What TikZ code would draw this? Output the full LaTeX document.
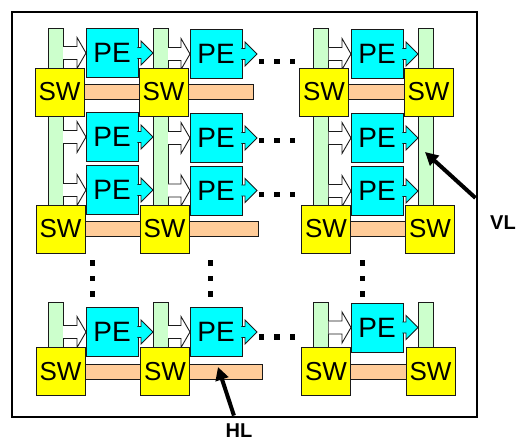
\documentclass[tikz,border=0pt]{standalone}
\usepackage{fontspec}
\setmainfont{Liberation Sans}
\usetikzlibrary{arrows.meta,calc}
\definecolor{vlgreen}{HTML}{CCFFCC}
\definecolor{hlpeach}{HTML}{FFCC99}
\definecolor{pecyan}{HTML}{00FFFF}
\definecolor{swyellow}{HTML}{FFFF00}
\definecolor{edgec}{HTML}{1A1A1A}
\newcommand\wharrow[2]{%
  \filldraw[draw=edgec, fill=white, line width=0.9pt] let \p1=(#1), \p2=(#2) in
   ({\x1},{\y2+6.5pt}) -- ({\x2-9pt},{\y2+6.5pt}) -- ({\x2-9pt},{\y2+15.5pt}) -- (\x2,\y2)
   -- ({\x2-9pt},{\y2-15.5pt}) -- ({\x2-9pt},{\y2-6.5pt}) -- ({\x1},{\y2-6.5pt});
}
\newcommand\cyarrow[2]{%
  \filldraw[draw=edgec, fill=pecyan, line width=0.9pt] let \p1=(#1), \p2=(#2) in
   ({\x1-0.6pt},{\y1+5.5pt}) -- ({\x2-12pt},{\y1+5.5pt}) -- ({\x2-12pt},{\y1+12pt}) -- (\x2,\y1)
   -- ({\x2-12pt},{\y1-12pt}) -- ({\x2-12pt},{\y1-5.5pt}) -- ({\x1-0.6pt},{\y1-5.5pt});
}
\newcommand\dotsq[2]{\fill (#1-2.6,#2-2.6) rectangle (#1+2.6,#2+2.6);}
\begin{document}
\begin{tikzpicture}[x=1pt,y=-1pt,
  every node/.style={inner sep=0pt, outer sep=0pt},
  pebox/.style={draw=edgec, line width=0.9pt, fill=pecyan, minimum width=52pt, minimum height=49pt,
    font=\fontsize{28}{28}\selectfont},
  swbox/.style={draw=edgec, line width=0.9pt, fill=swyellow, minimum width=49pt, minimum height=48pt,
    font=\fontsize{26}{26}\selectfont},
  vlbar/.style={draw=edgec, line width=0.7pt, fill=vlgreen, minimum width=15pt},
  hlbar/.style={draw=edgec, line width=0.7pt, fill=hlpeach, minimum height=15pt},
  lbl/.style={font=\fontsize{20}{20}\selectfont\bfseries},
  bigarrow/.style={line width=4pt, -{Triangle[length=13pt,width=13pt]}}
]
\useasboundingbox (0,0) rectangle (518,443);
% frame
\node[draw, line width=1.5pt, minimum width=465pt, minimum height=405pt] (frame) at (244.5,214.5) {};

% vertical links
\node[vlbar, minimum height=212pt] (vlA) at (55.5,134) {};
\node[vlbar, minimum height=212pt] (vlB) at (160.5,134) {};
\node[vlbar, minimum height=212pt] (vlC) at (321,134) {};
\node[vlbar, minimum height=212pt] (vlD) at (425.5,134) {};
\node[vlbar, minimum height=70pt] (vlAb) at (55.5,337) {};
\node[vlbar, minimum height=70pt] (vlBb) at (160.5,337) {};
\node[vlbar, minimum height=70pt] (vlCb) at (321,337) {};
\node[vlbar, minimum height=70pt] (vlDb) at (425.5,337) {};

% horizontal links
\node[hlbar, minimum width=193.5pt] (hlA1) at (156.25,91.5) {};
\node[hlbar, minimum width=198.5pt] (hlA2) at (158.75,229) {};
\node[hlbar, minimum width=202.5pt] (hlA3) at (160.75,371.5) {};
\node[hlbar, minimum width=104.5pt] (hlC1) at (377.25,91.5) {};
\node[hlbar, minimum width=104.5pt] (hlC2) at (377.25,229) {};
\node[hlbar, minimum width=104.5pt] (hlC3) at (377.25,371.5) {};

% processing elements
\node[pebox] (peA1) at (112,53) {PE};
\node[pebox] (peB1) at (216,54) {PE};
\node[pebox] (peC1) at (377,54) {PE};
\node[pebox] (peA2) at (112,137) {PE};
\node[pebox] (peB2) at (216,138) {PE};
\node[pebox] (peC2) at (377,138) {PE};
\node[pebox] (peA3) at (112,190) {PE};
\node[pebox] (peB3) at (216,190.5) {PE};
\node[pebox] (peC3) at (377,191) {PE};
\node[pebox] (peA4) at (112,332) {PE};
\node[pebox] (peB4) at (216,332) {PE};
\node[pebox] (peC4) at (377,327.5) {PE};

% arrow targets before the dots
\coordinate (tB1) at (257,54);
\coordinate (tB2) at (257,138);
\coordinate (tB3) at (257,190.5);
\coordinate (tB4) at (257,332);

% white input arrows
\wharrow{vlA.east}{peA1.west}
\wharrow{vlB.east}{peB1.west}
\wharrow{vlC.east}{peC1.west}
\wharrow{vlA.east}{peA2.west}
\wharrow{vlB.east}{peB2.west}
\wharrow{vlC.east}{peC2.west}
\wharrow{vlA.east}{peA3.west}
\wharrow{vlB.east}{peB3.west}
\wharrow{vlC.east}{peC3.west}
\wharrow{vlAb.east}{peA4.west}
\wharrow{vlBb.east}{peB4.west}
\wharrow{vlCb.east}{peC4.west}

% cyan output arrows
\cyarrow{peA1.east}{vlB.west}
\cyarrow{peB1.east}{tB1}
\cyarrow{peC1.east}{vlD.west}
\cyarrow{peA2.east}{vlB.west}
\cyarrow{peB2.east}{tB2}
\cyarrow{peC2.east}{vlD.west}
\cyarrow{peA3.east}{vlB.west}
\cyarrow{peB3.east}{tB3}
\cyarrow{peC3.east}{vlD.west}
\cyarrow{peA4.east}{vlBb.west}
\cyarrow{peB4.east}{tB4}
\cyarrow{peC4.east}{vlDb.west}

% switches
\node[swbox] (swA1) at (59.5,92) {SW};
\node[swbox] (swB1) at (163.5,92) {SW};
\node[swbox] (swC1) at (324,92) {SW};
\node[swbox] (swD1) at (428.5,92) {SW};
\node[swbox] (swA2) at (60.5,229) {SW};
\node[swbox] (swB2) at (164.5,229) {SW};
\node[swbox] (swC2) at (326,229) {SW};
\node[swbox] (swD2) at (430,229) {SW};
\node[swbox] (swA3) at (60.5,371.5) {SW};
\node[swbox] (swB3) at (165,371.5) {SW};
\node[swbox] (swC3) at (326,371.5) {SW};
\node[swbox] (swD3) at (430.5,371.5) {SW};

% horizontal dots
\foreach \yy in {61.7,140.7,194.3,337}{
  \foreach \xx in {261.5,277,292.5}{ \dotsq{\xx}{\yy} }
}
% vertical dots
\foreach \xx in {92.3,210.7,362.7}{
  \foreach \yy in {263,278.5,294}{ \dotsq{\xx}{\yy} }
}

% labels
\node[lbl] (VL) at (503,223) {VL};
\node[lbl] (HL) at (239,431) {HL};
\coordinate (vlpt) at (425,152);
\coordinate (hlpt) at (218,367);
\draw[bigarrow, shorten <=27pt] (VL) -- (vlpt);
\draw[bigarrow, shorten <=9pt] (HL) -- (hlpt);
\end{tikzpicture}
\end{document}
